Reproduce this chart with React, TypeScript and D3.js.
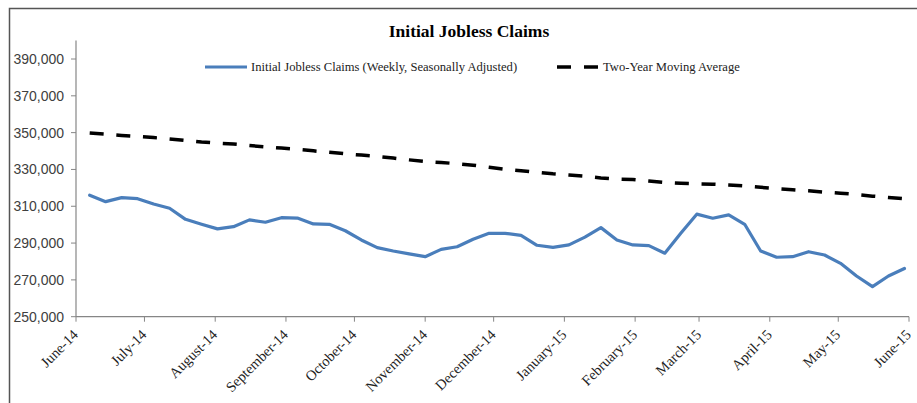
import React from "react";
import * as d3 from "d3";

const WIDTH = 917;
const HEIGHT = 403;

const TITLE = "Initial Jobless Claims";
const SERIES_CLAIMS = "Initial Jobless Claims (Weekly, Seasonally Adjusted)";
const SERIES_AVG = "Two-Year Moving Average";

const FIRST_WEEK = "2014-06-07";

// Weekly initial claims (thousands)
const claims = [
  316.0, 312.5, 314.7, 314.1, 311.2, 308.9, 302.9, 300.2, 297.7, 298.9,
  302.6, 301.3, 303.8, 303.6, 300.4, 300.2, 296.7, 291.7, 287.5, 285.7,
  284.1, 282.6, 286.6, 288.0, 292.1, 295.3, 295.3, 294.2, 288.8, 287.7,
  289.0, 293.2, 298.4, 291.7, 289.0, 288.6, 284.5, 295.3, 305.7, 303.5,
  305.3, 300.2, 285.7, 282.3, 282.6, 285.3, 283.5, 279.0, 272.1, 266.3,
  272.1, 276.2,
];

// Two-year moving average (thousands)
const movingAvg = [
  349.8, 349.2, 348.5, 347.9, 347.3, 346.6, 345.7, 344.9, 344.3, 343.8,
  343.0, 342.3, 341.6, 340.9, 340.1, 339.3, 338.5, 337.8, 337.1, 336.2,
  335.2, 334.3, 333.8, 333.1, 332.3, 331.2, 330.1, 329.3, 328.4, 327.6,
  327.0, 326.3, 325.4, 324.8, 324.5, 323.7, 322.9, 322.5, 322.2, 322.0,
  321.6, 321.0, 320.3, 319.6, 319.0, 318.4, 317.7, 317.1, 316.4, 315.5,
  314.8, 314.1,
];

const yTicks = [250000, 270000, 290000, 310000, 330000, 350000, 370000, 390000];
const yDomain = [250000, 400000];
const xDomain = ["2014-06-01", "2015-06-01"];

const parse = d3.utcParse("%Y-%m-%d");

export default function App() {
  const start = parse(FIRST_WEEK) as Date;
  const dates = claims.map((_, i) => d3.utcDay.offset(start, i * 7));

  const x = d3
    .scaleUtc()
    .domain(xDomain.map((d) => parse(d) as Date))
    .range([76, 909]);
  const y = d3.scaleLinear().domain(yDomain).range([316.7, 40.6]);

  const months = d3.utcMonth.range(
    parse(xDomain[0]) as Date,
    d3.utcDay.offset(parse(xDomain[1]) as Date, 1)
  );
  const fmtMonth = d3.utcFormat("%B-%y");
  const fmtNum = d3.format(",");

  const line = d3
    .line<number>()
    .x((_, i) => x(dates[i]))
    .y((v) => y(v * 1000));

  const serif = "'Liberation Serif', 'Times New Roman', serif";
  const sans = "'Liberation Sans', Arial, sans-serif";
  const axisColor = "#868686";
  const blue = "#4A7EBB";
  const y0 = y(yDomain[0]);
  const legendY = 67;

  return (
    <svg
      width={WIDTH}
      height={HEIGHT}
      style={{ position: "absolute", left: 0, top: 0, background: "#fff" }}
    >
      <rect x={0} y={0} width={WIDTH} height={HEIGHT} fill="#fff" />
      {/* frame */}
      <path
        d={`M9.5,${HEIGHT + 2} L9.5,8.5 L${WIDTH + 2},8.5`}
        fill="none"
        stroke="#555"
        strokeWidth={1.5}
      />
      {/* title */}
      <text
        x={469}
        y={37}
        textAnchor="middle"
        fontFamily={serif}
        fontWeight="bold"
        fontSize={17.5}
        fill="#000"
      >
        {TITLE}
      </text>

      {/* legend */}
      <line x1={205} x2={247} y1={legendY} y2={legendY} stroke={blue} strokeWidth={3} />
      <text x={251} y={legendY + 4} fontFamily={serif} fontSize={12.6} fill="#222">
        {SERIES_CLAIMS}
      </text>
      <line
        x1={557}
        x2={598}
        y1={legendY}
        y2={legendY}
        stroke="#000"
        strokeWidth={3.5}
        strokeDasharray="14,13"
      />
      <text x={603} y={legendY + 4} fontFamily={serif} fontSize={12.6} fill="#222">
        {SERIES_AVG}
      </text>

      {/* y axis */}
      <line x1={76} x2={76} y1={y(yDomain[1])} y2={y0} stroke={axisColor} strokeWidth={1.2} />
      {yTicks.map((t) => (
        <g key={t}>
          <line x1={71} x2={76} y1={y(t)} y2={y(t)} stroke={axisColor} strokeWidth={1} />
          <text
            x={64}
            y={y(t) + 5}
            textAnchor="end"
            fontFamily={sans}
            fontSize={14}
            fill="#404040"
          >
            {fmtNum(t)}
          </text>
        </g>
      ))}

      {/* x axis */}
      <line x1={76} x2={909} y1={y0} y2={y0} stroke={axisColor} strokeWidth={1.2} />
      {months.map((m) => (
        <g key={m.toISOString()}>
          <line x1={x(m)} x2={x(m)} y1={y0} y2={y0 + 5} stroke={axisColor} strokeWidth={1} />
          <text
            transform={`translate(${x(m) + 3},${y0 + 19}) rotate(-45)`}
            textAnchor="end"
            fontFamily={serif}
            fontSize={14.5}
            fill="#222"
          >
            {fmtMonth(m)}
          </text>
        </g>
      ))}

      {/* series */}
      <path
        d={line(movingAvg) || ""}
        fill="none"
        stroke="#000"
        strokeWidth={3.5}
        strokeDasharray="14,12.7"
      />
      <path
        d={line(claims) || ""}
        fill="none"
        stroke={blue}
        strokeWidth={3.2}
        strokeLinejoin="round"
        strokeLinecap="round"
      />
    </svg>
  );
}
